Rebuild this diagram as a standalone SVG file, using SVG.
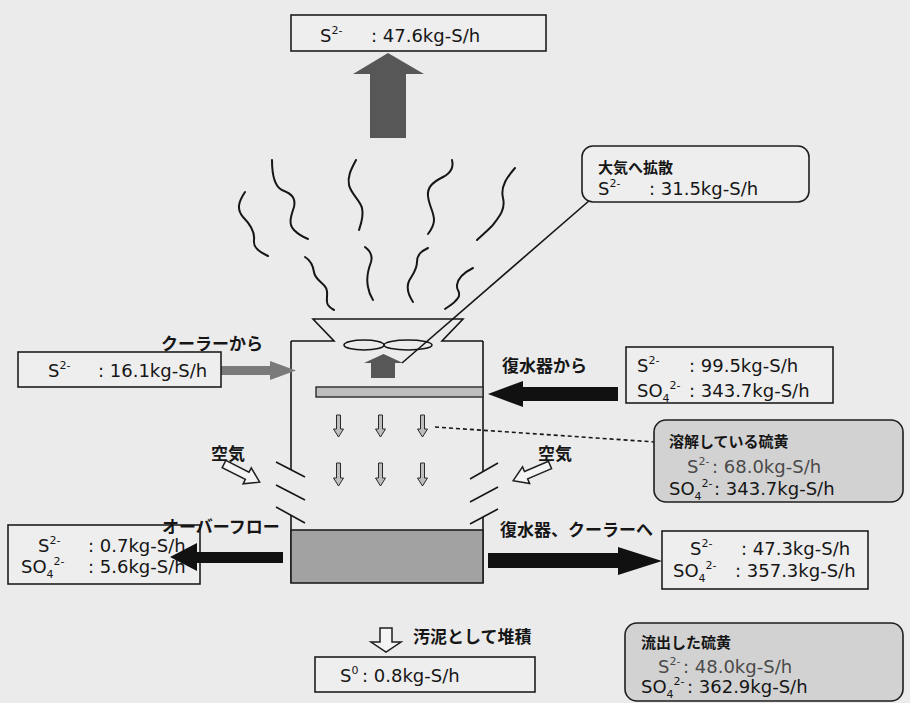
<svg xmlns="http://www.w3.org/2000/svg" width="910" height="703" viewBox="0 0 910 703">
  <defs>
    <style>
      .bg { fill: #ebebeb; }
      .box { fill: #eeeeee; stroke: #1e1e1e; stroke-width: 1.6; }
      .rbox { fill: #eeeeee; stroke: #1e1e1e; stroke-width: 1.6; }
      .gbox { fill: #d2d2d2; stroke: #1e1e1e; stroke-width: 1.6; }
      .num { font-family: "DejaVu Sans", "Liberation Sans", sans-serif; font-size: 18px; fill: #161616; }
      .num.soft { fill: #4a4a4a; }
      .sup { font-size: 11px; }
      .jp { font-family: "Noto Sans CJK JP", sans-serif; font-size: 17px; font-weight: 700; fill: #161616; }
      .jps { font-family: "Noto Sans CJK JP", sans-serif; font-size: 15px; font-weight: 700; fill: #161616; }
      .line { fill: none; stroke: #161616; stroke-width: 1.6; }
      .wave { fill: none; stroke: #161616; stroke-width: 2; stroke-linecap: round; }
      .solid { fill: #111111; }
      .dark { fill: #575757; }
      .mid { fill: #7a7a7a; }
      .drip { fill: #bdbdbd; stroke: #2a2a2a; stroke-width: 1; }
      .hollow { fill: #f4f4f4; stroke: #1e1e1e; stroke-width: 1.5; stroke-linejoin: miter; }
    </style>
  </defs>

  <rect class="bg" x="0" y="0" width="910" height="703"/>

  <!-- cooling tower body -->
  <g id="tower">
    <path class="line" d="M291,341 H334 L313,319 H463 L442,341 H483"/>
    <line class="line" x1="291" y1="341" x2="291" y2="470"/>
    <line class="line" x1="483" y1="341" x2="483" y2="472"/>
    <line class="line" x1="291" y1="515" x2="291" y2="583"/>
    <line class="line" x1="483" y1="517" x2="483" y2="583"/>
    <!-- louvers -->
    <line class="line" x1="276" y1="462" x2="305" y2="477"/>
    <line class="line" x1="276" y1="485" x2="305" y2="500"/>
    <line class="line" x1="276" y1="507" x2="305" y2="523"/>
    <line class="line" x1="470" y1="479" x2="498" y2="463"/>
    <line class="line" x1="470" y1="502" x2="498" y2="487"/>
    <line class="line" x1="470" y1="524" x2="498" y2="509"/>
    <!-- fan -->
    <ellipse class="line" cx="364" cy="345" rx="20" ry="5"/>
    <ellipse class="line" cx="408" cy="345" rx="24" ry="5"/>
    <!-- spray plate -->
    <rect x="316" y="387" width="167" height="10" fill="#bdbdbd" stroke="#2a2a2a" stroke-width="1.4"/>
    <!-- basin -->
    <rect x="291" y="530" width="192" height="53" fill="#a2a2a2" stroke="#1e1e1e" stroke-width="1.6"/>
    <!-- falling water -->
    <polygon class="drip" points="336.5,415 340.5,415 340.5,429 343.5,429 338.5,437 333.5,429 336.5,429"/>
    <polygon class="drip" points="378.5,415 382.5,415 382.5,429 385.5,429 380.5,437 375.5,429 378.5,429"/>
    <polygon class="drip" points="420.5,415 424.5,415 424.5,429 427.5,429 422.5,437 417.5,429 420.5,429"/>
    <polygon class="drip" points="336.5,463 340.5,463 340.5,478 343.5,478 338.5,486 333.5,478 336.5,478"/>
    <polygon class="drip" points="378.5,463 382.5,463 382.5,478 385.5,478 380.5,486 375.5,478 378.5,478"/>
    <polygon class="drip" points="420.5,463 424.5,463 424.5,478 427.5,478 422.5,486 417.5,478 420.5,478"/>
    <!-- exhaust arrow at fan -->
    <polygon class="dark" points="371,378 395,378 395,363 403,363 383.5,354 364,363 371,363"/>
  </g>

  <!-- plume -->
  <g id="plume">
    <path class="wave" d="M245,192 C239,201 236,209 243,217 C251,225 255,232 254,240 C253,248 260,252 268,256"/>
    <path class="wave" d="M272,160 C272,175 274,186 282,190 C292,194 296,198 294,207 C291,216 288,224 294,230 C298,234 303,237 308,239"/>
    <path class="wave" d="M356,160 C352,168 347,176 349,185 C351,194 360,200 362,208 C364,216 361,224 359,230"/>
    <path class="wave" d="M452,160 C454,168 451,173 443,177 C433,182 427,187 428,196 C429,206 434,212 434,220 C434,226 431,230 428,234"/>
    <path class="wave" d="M515,168 C508,176 500,186 503,198 C506,210 498,218 492,226 C486,232 481,236 477,240"/>
    <path class="wave" d="M305,257 C310,260 313,265 314,272 C315,280 323,282 326,288 C329,294 325,300 328,305 C330,308 332,309 334,310"/>
    <path class="wave" d="M365,247 C369,250 373,255 371,262 C368,270 366,278 368,287 C369,293 371,297 373,300"/>
    <path class="wave" d="M428,248 C422,251 417,254 417,262 C417,270 412,275 409,281 C406,288 409,296 413,302"/>
    <path class="wave" d="M473,268 C465,272 458,277 457,285 C456,291 462,292 458,298 C454,304 449,306 445,309"/>
  </g>

  <!-- connectors -->
  <g id="connectors">
    <polygon class="dark" points="370,138 406,138 406,74 424,74 388,53 353,74 370,74"/>
    <polygon class="mid" points="221,366 270,366 270,361 296,370.5 270,380 270,375 221,375"/>
    <polygon class="solid" points="618,387 523,387 523,381 488,394 523,407 523,401 618,401"/>
    <polygon class="solid" points="488,553 618,553 618,547 662,561 618,575 618,568 488,568"/>
    <polygon class="hollow" points="380,628 392,628 392,642 401,642 386,652 371,642 380,642"/>
    <polygon class="hollow" transform="translate(224,464) rotate(27)" points="0,-4 26,-4 26,-9 40,0 26,9 26,4 0,4"/>
    <polygon class="hollow" transform="translate(550,465) rotate(157)" points="0,-4 26,-4 26,-9 40,0 26,9 26,4 0,4"/>
    <line class="line" x1="402" y1="363" x2="590" y2="200" stroke-width="1.4"/>
    <line class="line" x1="435" y1="427" x2="655" y2="442" stroke-width="1.4" stroke-dasharray="4 3"/>
  </g>

  <g id="top-out">
    <rect class="box" x="291" y="15" width="255" height="36"/>
    <text class="num" x="320" y="42">S<tspan class="sup" dy="-8">2-</tspan><tspan x="371" dy="8">: 47.6kg-S/h</tspan></text>
  </g>

  <g id="atmosphere">
    <rect class="rbox" x="582" y="146" width="227" height="56" rx="11"/>
    <text class="jps" x="598" y="173">大気へ拡散</text>
    <text class="num" x="598" y="195">S<tspan class="sup" dy="-8">2-</tspan><tspan x="649" dy="8">: 31.5kg-S/h</tspan></text>
  </g>

  <g id="from-cooler">
    <text class="jp" x="161" y="350">クーラーから</text>
    <rect class="box" x="18" y="352" width="203" height="35"/>
    <text class="num" x="48" y="377">S<tspan class="sup" dy="-8">2-</tspan><tspan x="98" dy="8">: 16.1kg-S/h</tspan></text>
  </g>

  <g id="from-condenser">
    <text class="jp" x="502" y="372">復水器から</text>
    <rect class="box" x="626" y="347" width="207" height="56"/>
    <text class="num" x="637" y="372">S<tspan class="sup" dy="-8">2-</tspan><tspan x="689" dy="8">: 99.5kg-S/h</tspan></text>
    <text class="num" x="637" y="397">SO<tspan class="sup" dy="5">4</tspan><tspan class="sup" dy="-13">2-</tspan><tspan x="689" dy="8">: 343.7kg-S/h</tspan></text>
  </g>

  <g id="dissolved">
    <rect class="gbox" x="654" y="420" width="249" height="82" rx="12"/>
    <text class="jps" x="669" y="447">溶解している硫黄</text>
    <text class="num soft" x="687" y="473">S<tspan class="sup" dy="-8">2-</tspan><tspan x="712" dy="8">: 68.0kg-S/h</tspan></text>
    <text class="num" x="669" y="495">SO<tspan class="sup" dy="5">4</tspan><tspan class="sup" dy="-13">2-</tspan><tspan x="714" dy="8">: 343.7kg-S/h</tspan></text>
  </g>

  <g id="air">
    <text class="jp" x="211" y="460">空気</text>
    <text class="jp" x="538" y="460">空気</text>
  </g>

  <g id="overflow">
    <rect class="box" x="8" y="525" width="192" height="59"/>
    <text class="num" x="38" y="552">S<tspan class="sup" dy="-8">2-</tspan><tspan x="88" dy="8">: 0.7kg-S/h</tspan></text>
    <text class="num" x="21" y="573">SO<tspan class="sup" dy="5">4</tspan><tspan class="sup" dy="-13">2-</tspan><tspan x="88" dy="8">: 5.6kg-S/h</tspan></text>
    <text class="jp" x="162" y="533">オーバーフロー</text>
    <polygon class="solid" points="283,552 197,552 197,543 170,557 197,571 197,563 283,563"/>
  </g>

  <g id="to-condenser">
    <text class="jp" x="500" y="536">復水器、クーラーへ</text>
    <rect class="box" x="662" y="531" width="206" height="58"/>
    <text class="num" x="690" y="555">S<tspan class="sup" dy="-8">2-</tspan><tspan x="741" dy="8">: 47.3kg-S/h</tspan></text>
    <text class="num" x="673" y="577">SO<tspan class="sup" dy="5">4</tspan><tspan class="sup" dy="-13">2-</tspan><tspan x="735" dy="8">: 357.3kg-S/h</tspan></text>
  </g>

  <g id="sludge">
    <text class="jp" x="413" y="643">汚泥として堆積</text>
    <rect class="box" x="315" y="657" width="220" height="35"/>
    <text class="num" x="340" y="682">S<tspan class="sup" dy="-8">0</tspan><tspan x="362" dy="8">: 0.8kg-S/h</tspan></text>
  </g>

  <g id="outflow">
    <rect class="gbox" x="625" y="623" width="278" height="78" rx="12"/>
    <text class="jps" x="641" y="648">流出した硫黄</text>
    <text class="num soft" x="658" y="673">S<tspan class="sup" dy="-8">2-</tspan><tspan x="683" dy="8">: 48.0kg-S/h</tspan></text>
    <text class="num" x="641" y="693">SO<tspan class="sup" dy="5">4</tspan><tspan class="sup" dy="-13">2-</tspan><tspan x="687" dy="8">: 362.9kg-S/h</tspan></text>
  </g>
</svg>
